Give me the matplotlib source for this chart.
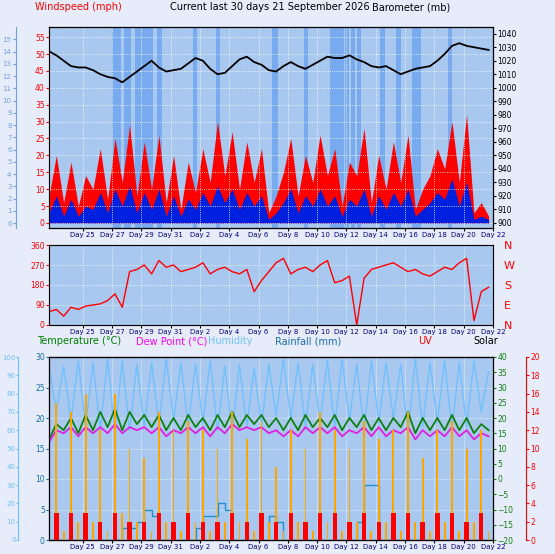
import numpy as np
import matplotlib.pyplot as plt

# half-day samples, 0 = 22 Aug ~17:00
gust = [8, 20, 6, 18, 5, 14, 10, 22, 7, 25, 12, 29, 8, 24, 10, 26, 6, 20, 4, 18,
        9, 22, 12, 30, 14, 27, 10, 24, 12, 22, 3, 8, 15, 25, 8, 20, 12, 26, 14, 22,
        5, 18, 14, 28, 6, 20, 10, 24, 12, 26, 4, 10, 14, 22, 16, 30, 12, 32, 3, 6, 2]
avg = [3, 8, 2, 7, 2, 5, 4, 9, 3, 10, 5, 11, 3, 9, 4, 10, 2, 8, 2, 7,
       4, 9, 5, 11, 6, 10, 4, 9, 5, 8, 1, 3, 6, 10, 3, 8, 5, 10, 5, 8,
       2, 7, 5, 10, 2, 8, 4, 9, 5, 10, 2, 4, 6, 9, 7, 13, 5, 12, 1, 2, 1]
baro = [1027, 1024, 1020, 1016, 1015, 1015, 1013, 1010, 1008, 1007, 1004, 1008, 1012, 1016,
        1020, 1015, 1012, 1013, 1014, 1018, 1022, 1020, 1014, 1010, 1011, 1016, 1021, 1023,
        1019, 1017, 1013, 1012, 1016, 1019, 1016, 1014, 1017, 1020, 1023, 1022, 1022, 1024,
        1021, 1019, 1016, 1015, 1016, 1013, 1010, 1012, 1014, 1015, 1016, 1020, 1025, 1031,
        1033, 1031, 1030, 1029, 1028]
rain_marks = [4.3, 4.6, 5.1, 5.3, 5.9, 6.2, 6.5, 6.8, 7.4, 9.8, 11.4, 15.2, 15.3, 17.4,
              19.2, 19.3, 19.6, 19.8, 20.2, 20.6, 21.0, 22.6, 23.7, 24.8, 25.1, 27.2]
wdir = [60, 70, 40, 80, 70, 85, 90, 95, 110, 140, 80, 240, 250, 270, 230, 290, 260, 270,
        240, 250, 260, 280, 230, 250, 260, 240, 230, 250, 150, 200, 240, 280, 300, 230,
        250, 260, 240, 270, 290, 190, 200, 220, 0, 210, 250, 260, 270, 280, 260, 240,
        250, 230, 220, 240, 260, 250, 280, 300, 20, 150, 170]
temp = [13, 18, 16, 20, 15, 21, 16, 22, 17, 23, 16, 22, 18, 21, 17, 21, 16, 20, 16, 21,
        17, 20, 16, 21, 17, 22, 17, 21, 18, 21, 17, 20, 16, 20, 16, 21, 17, 20, 17, 21,
        16, 20, 17, 21, 16, 20, 16, 20, 17, 22, 15, 20, 16, 20, 16, 21, 16, 20, 15, 18, 16]
dew = [12, 16, 15, 17, 14, 17, 15, 17, 15, 18, 15, 17, 16, 17, 15, 17, 14, 16, 15, 17,
       15, 17, 14, 17, 15, 18, 16, 17, 16, 17, 15, 16, 14, 16, 14, 17, 15, 17, 15, 17,
       14, 16, 15, 17, 14, 17, 14, 16, 15, 17, 13, 16, 14, 16, 14, 17, 14, 16, 13, 15, 14]
hum = [95, 70, 95, 65, 98, 62, 97, 60, 99, 58, 98, 60, 96, 62, 97, 63, 99, 65, 97, 62,
       96, 64, 98, 60, 95, 58, 96, 62, 94, 63, 96, 68, 99, 66, 97, 62, 96, 64, 98, 62,
       99, 65, 96, 60, 98, 64, 97, 66, 96, 58, 99, 62, 97, 64, 98, 60, 97, 62, 98, 70, 92]
solar = [2, 15, 1, 14, 2, 16, 2, 12, 1, 16, 3, 10, 2, 9, 1, 14, 2, 12, 1, 13,
         2, 12, 1, 10, 2, 14, 2, 11, 1, 13, 2, 8, 1, 12, 2, 10, 1, 14, 2, 12,
         1, 10, 2, 13, 1, 11, 2, 12, 1, 14, 2, 9, 1, 12, 2, 13, 1, 10, 2, 12, 1]
uv = [0, 3, 0, 3, 0, 3, 0, 2, 0, 3, 0, 2, 0, 2, 0, 3, 0, 2, 0, 3,
      0, 2, 0, 2, 0, 3, 0, 2, 0, 3, 0, 2, 0, 3, 0, 2, 0, 3, 0, 3,
      0, 2, 0, 3, 0, 2, 0, 3, 0, 3, 0, 2, 0, 3, 0, 3, 0, 2, 0, 3, 0]
rain_step = [0, 0, 0, 0, 0, 0, 0, 0, 0, 0, 2, 2, 3, 5, 4, 0, 0, 0, 0, 0,
             2, 4, 4, 6, 5, 0, 0, 0, 0, 0, 4, 3, 0, 0, 0, 0, 0, 0, 0, 0,
             0, 0, 3, 9, 9, 0, 0, 0, 0, 0, 0, 0, 0, 0, 0, 0, 0, 0, 0, 0, 0]
day_ticks = ["Day 25", "Day 27", "Day 29", "Day 31", "Day 2", "Day 4", "Day 6", "Day 8",
             "Day 10", "Day 12", "Day 14", "Day 16", "Day 18", "Day 20", "Day 22"]

t = np.arange(len(gust)) * 0.5
tick_pos = 2.3 + 2 * np.arange(len(day_ticks))

BG = "#e6ecfa"
PANEL = "#a9c8f0"
fig = plt.figure(figsize=(5.55, 5.54), dpi=100, facecolor=BG)
W, H = 555, 554


def add_ax(x0, y0, x1, y1):
    ax = fig.add_axes([x0 / W, 1 - y1 / H, (x1 - x0) / W, (y1 - y0) / H])
    ax.set_facecolor(PANEL)
    ax.set_xlim(0, 30)
    ax.set_xticks(tick_pos)
    ax.set_xticklabels(day_ticks, fontsize=5, color="#000080")
    ax.grid(True, color="white", ls=":", lw=0.6)
    for s in ax.spines.values():
        s.set_color("#808080")
    ax.tick_params(length=2, pad=1)
    return ax


small = dict(labelsize=5.5)

# panel 1: wind + barometer
ax1 = add_ax(49, 27, 493, 228)
for r in rain_marks:
    ax1.axvspan(r, r + 0.3, color="#78aaf0", lw=0)
ax1.fill_between(t, gust, color="red", lw=0)
ax1.fill_between(t, avg, color="#0020e0", lw=0)
ax1.set_ylim(-1.5, 58)
ax1.set_yticks(range(0, 56, 5))
ax1.tick_params(axis="y", colors="red", **small)
ax1b = ax1.twinx()
ax1b.plot(t, baro, color="black", lw=1.3)
ax1b.set_ylim(896, 1045)
ax1b.set_yticks(range(900, 1041, 10))
ax1b.tick_params(axis="y", length=2, pad=1, **small)
ax1c = ax1.twinx()
ax1c.spines["left"].set_position(("outward", 24))
ax1c.spines["left"].set_color("#6fa0ec")
ax1c.yaxis.set_ticks_position("left")
ax1c.set_ylim(-0.4, 16)
ax1c.set_yticks(range(0, 16))
ax1c.tick_params(axis="y", colors="#6fa0ec", length=2, pad=1, labelsize=5)

fig.text(35 / W, 1 - 7 / H, "Windspeed (mph)", color="red", fontsize=7, va="center")
fig.text(170 / W, 1 - 7 / H, "Current last 30 days 21 September 2026", fontsize=7, va="center")
fig.text(372 / W, 1 - 7 / H, "Barometer (mb)", fontsize=7, va="center")

# panel 2: wind direction
ax2 = add_ax(49, 245, 493, 325)
ax2.plot(t, wdir, color="red", lw=1)
ax2.set_ylim(0, 360)
ax2.set_yticks([0, 90, 180, 270, 360])
ax2.tick_params(axis="y", colors="red", **small)
ax2b = ax2.twinx()
ax2b.set_ylim(0, 360)
ax2b.set_yticks([0, 90, 180, 270, 360])
ax2b.set_yticklabels(["N", "E", "S", "W", "N"], color="red", fontsize=8)
ax2b.tick_params(length=0, pad=8)

# panel 3: temperature, humidity, rain, uv, solar
ax3 = add_ax(49, 357, 493, 540)
ax3.set_ylim(0, 30)
ax3.set_yticks(range(0, 31, 5))
ax3.tick_params(axis="y", colors="#1a6fb0", **small)
ax3.step(t, rain_step, where="post", color="#2090d0", lw=1)
axh = ax3.twinx()
axh.plot(t, hum, color="#70c0ff", lw=1)
axh.set_ylim(0, 100)
axh.spines["left"].set_position(("outward", 22))
axh.spines["left"].set_color("#70c0ff")
axh.yaxis.set_ticks_position("left")
axh.set_yticks(range(0, 101, 10))
axh.tick_params(axis="y", colors="#70c0ff", length=1.5, pad=0.5, labelsize=5)
axt = ax3.twinx()
axt.plot(t, temp, color="#108010", lw=1.3)
axt.plot(t, dew, color="#e020e0", lw=1.3)
axt.set_ylim(-20, 40)
axt.set_yticks(range(-20, 41, 5))
axt.tick_params(axis="y", colors="#108010", length=2, pad=1, **small)
axu = ax3.twinx()
axu.spines["right"].set_position(("outward", 24))
axu.spines["right"].set_color("red")
axu.bar(t, solar, width=0.12, color="orange")
axu.bar(t, uv, width=0.3, color="red")
axu.set_ylim(0, 20)
axu.set_yticks(range(0, 21, 2))
axu.tick_params(axis="y", colors="red", length=2, pad=1, **small)

ty = 1 - 341 / H
fig.text(37 / W, ty, "Temperature (°C)", color="green", fontsize=7, va="center")
fig.text(136 / W, ty, "Dew Point (°C)", color="magenta", fontsize=7, va="center")
fig.text(208 / W, ty, "Humidity", color="#70c0ff", fontsize=7, va="center")
fig.text(275 / W, ty, "Rainfall (mm)", color="#1a6fb0", fontsize=7, va="center")
fig.text(418 / W, ty, "UV", color="red", fontsize=7, va="center")
fig.text(473 / W, ty, "Solar", color="black", fontsize=7, va="center")

fig.savefig("out.png", dpi=100, facecolor=BG)
